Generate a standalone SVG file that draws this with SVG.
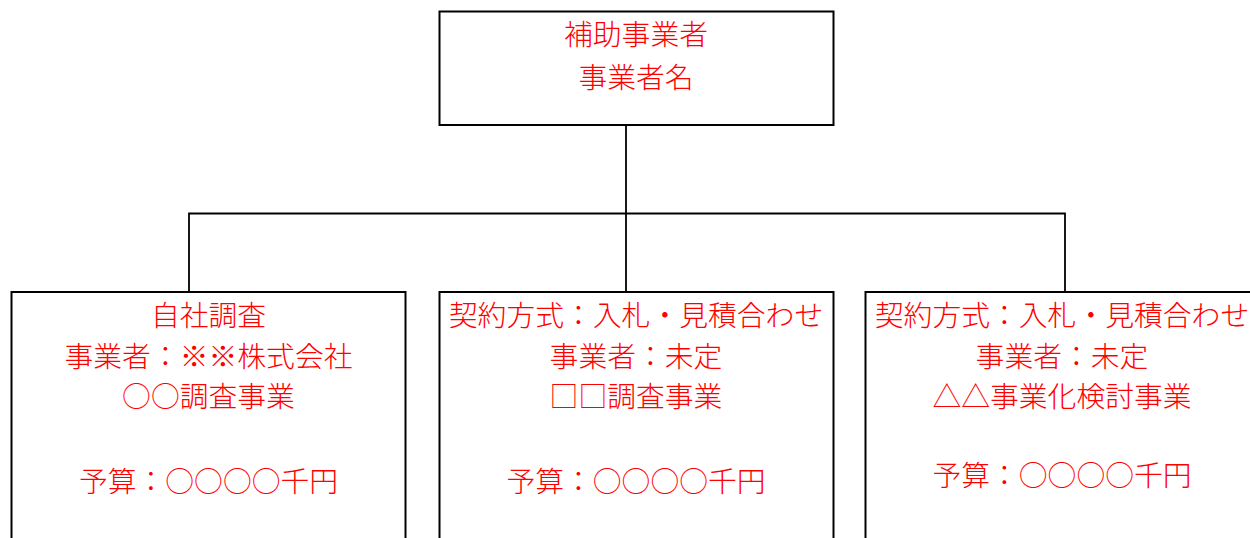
<svg xmlns="http://www.w3.org/2000/svg" width="1250" height="538" viewBox="0 0 1250 538">
<style>
.box{fill:#fff;stroke:#000;stroke-width:2}
.conn{fill:none;stroke:#000;stroke-width:1.8}
.t{font-family:"Noto Sans CJK JP","Noto Sans CJK SC",sans-serif;font-size:28.8px;font-weight:300;fill:#ff0000;text-anchor:middle}
</style>
<rect width="1250" height="538" fill="#fff"/>
<g id="connectors">
<path class="conn" d="M626 125V291M189 291V213.5H1065V291"/>
</g>
<g id="top">
<rect class="box" x="439.5" y="11.5" width="394" height="113.5"/>
<text class="t" x="636" y="45">補助事業者</text>
<text class="t" x="636" y="88">事業者名</text>
</g>
<g id="left">
<rect class="box" x="11.5" y="292" width="394" height="260"/>
<text class="t" x="208.5" y="326">自社調査</text>
<text class="t" x="208.5" y="366.5">事業者：※※株式会社</text>
<text class="t" x="208.5" y="407">○○調査事業</text>
<text class="t" x="208.5" y="492">予算：○○○○千円</text>
</g>
<g id="middle">
<rect class="box" x="439.5" y="292" width="394" height="260"/>
<text class="t" x="636" y="326">契約方式：入札・見積合わせ</text>
<text class="t" x="636" y="366.5">事業者：未定</text>
<text class="t" x="636" y="407">□□調査事業</text>
<text class="t" x="636" y="492">予算：○○○○千円</text>
</g>
<g id="right">
<rect class="box" x="865.5" y="292" width="394" height="260"/>
<text class="t" x="1062" y="326">契約方式：入札・見積合わせ</text>
<text class="t" x="1062" y="366.5">事業者：未定</text>
<text class="t" x="1062" y="407">△△事業化検討事業</text>
<text class="t" x="1062" y="486">予算：○○○○千円</text>
</g>
</svg>
